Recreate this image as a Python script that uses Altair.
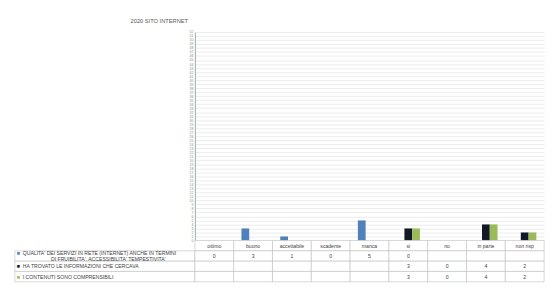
import altair as alt
import pandas as pd

title_text = "2020 SITO INTERNET"
categories = ["ottimo", "buono", "accettabile", "scadente", "manca", "si", "no", "in parte", "non risp"]
series_names = [
    "QUALITA' DEI SERVIZI IN RETE (INTERNET) ANCHE IN TERMINI DI FRUIBILITA', ACCESSIBILITA' TEMPESTIVITA'",
    "HA TROVATO LE INFORMAZIONI CHE CERCAVA",
    "I CONTENUTI SONO COMPRENSIBILI",
]
label_line1 = [
    "QUALITA' DEI SERVIZI IN RETE (INTERNET) ANCHE IN TERMINI",
    "HA TROVATO LE INFORMAZIONI CHE CERCAVA",
    "I CONTENUTI SONO COMPRENSIBILI",
]
label_line2 = ["DI FRUIBILITA', ACCESSIBILITA' TEMPESTIVITA'", "", ""]
qualita = [0, 3, 1, 0, 5, 0, None, None, None]
trovato = [None, None, None, None, None, 3, 0, 4, 2]
contenuti = [None, None, None, None, None, 3, 0, 4, 2]
colors = ["#4F81BD", "#111A26", "#9BBB59"]
y_ticks = list(range(0, 53))

FONT = "Liberation Sans"
rows = ["hdr", "r1", "r2", "r3"]
series_rows = ["r1", "r2", "r3"]
all_values = [qualita, trovato, contenuti]

bar_records = []
for s, vals in zip(series_names, all_values):
    for c, v in zip(categories, vals):
        if v is not None:
            bar_records.append({"category": c, "series": s, "value": v})
df_bars = pd.DataFrame(bar_records)

bars = alt.Chart(df_bars).mark_bar().encode(
    x=alt.X("category:N", sort=categories,
            scale=alt.Scale(domain=categories, paddingInner=0.4, paddingOuter=0.2),
            axis=None),
    xOffset=alt.XOffset("series:N", sort=series_names,
                        scale=alt.Scale(domain=series_names, paddingInner=0, paddingOuter=0)),
    y=alt.Y("value:Q", scale=alt.Scale(domain=[0, 52], nice=False),
            axis=alt.Axis(values=y_ticks, title=None, labelFontSize=3.6, labelColor="#8c8c8c",
                          labelOverlap=False, grid=True, gridColor="#dedede", gridWidth=0.6,
                          domainColor="#a6a6a6", ticks=False, labelPadding=2, labelFont=FONT)),
    color=alt.Color("series:N", scale=alt.Scale(domain=series_names, range=colors), legend=None),
)
title_mark = alt.Chart(pd.DataFrame({"t": [title_text]})).mark_text(
    align="right", baseline="middle", fontSize=5.8, color="#595959", font=FONT
).encode(text="t:N", x=alt.value(-7), y=alt.value(-11))
top = alt.layer(bars, title_mark).properties(width=355, height=212)

blank = alt.Chart(pd.DataFrame({"t": [""]})).mark_text().encode(
    text="t:N").properties(width=183, height=212)

# left table (row labels)
left_df = pd.DataFrame({"row": series_rows, "line1": label_line1, "line2": label_line2,
                        "color": colors, "sym": ["\u25a0"] * 3})
yscale = alt.Scale(domain=rows, paddingInner=0, paddingOuter=0)
left_rect = alt.Chart(left_df).mark_rect(fill="white", stroke="#bfbfbf", strokeWidth=0.6).encode(
    y=alt.Y("row:N", scale=yscale, axis=None), x=alt.value(0), x2=alt.value(183))
left_df_1 = left_df[left_df["line2"] != ""]
left_df_2 = left_df[left_df["line2"] == ""]
sq_single = alt.Chart(left_df_2).mark_text(align="left", baseline="middle", fontSize=5.5, font=FONT).encode(
    y=alt.Y("row:N", scale=yscale, axis=None), x=alt.value(2),
    color=alt.Color("color:N", scale=None), text="sym:N")
sq_1 = alt.Chart(left_df_1).mark_text(align="left", baseline="middle", fontSize=5.5, dy=-2.6, font=FONT).encode(
    y=alt.Y("row:N", scale=yscale, axis=None), x=alt.value(2),
    color=alt.Color("color:N", scale=None), text="sym:N")
txt_single = alt.Chart(left_df_2).mark_text(align="left", baseline="middle", fontSize=5.2,
                                            color="#404040", font=FONT).encode(
    y=alt.Y("row:N", scale=yscale, axis=None), x=alt.value(8), text="line1:N")
txt_l1 = alt.Chart(left_df_1).mark_text(align="left", baseline="middle", fontSize=5.2, dy=-2.6,
                                        color="#404040", font=FONT).encode(
    y=alt.Y("row:N", scale=yscale, axis=None), x=alt.value(8), text="line1:N")
txt_l2 = alt.Chart(left_df_1).mark_text(align="center", baseline="middle", fontSize=5.2, dy=2.8,
                                        color="#404040", font=FONT).encode(
    y=alt.Y("row:N", scale=yscale, axis=None), x=alt.value(95), text="line2:N")
left_table = alt.layer(left_rect, sq_single, sq_1, txt_single, txt_l1, txt_l2).properties(width=183, height=42)

# right table (values)
cell_records = []
for c in categories:
    cell_records.append({"category": c, "row": "hdr", "label": c})
    for r, vals in zip(series_rows, all_values):
        v = vals[categories.index(c)]
        cell_records.append({"category": c, "row": r, "label": "" if v is None else str(v)})
df_cells = pd.DataFrame(cell_records)
xscale_t = alt.Scale(domain=categories, paddingInner=0, paddingOuter=0)
cell_rect = alt.Chart(df_cells).mark_rect(fill="white", stroke="#bfbfbf", strokeWidth=0.6).encode(
    x=alt.X("category:N", sort=categories, scale=xscale_t, axis=None),
    y=alt.Y("row:N", scale=yscale, axis=None))
cell_txt = alt.Chart(df_cells).mark_text(fontSize=5.2, color="#404040", font=FONT, baseline="middle").encode(
    x=alt.X("category:N", sort=categories, scale=xscale_t, axis=None),
    y=alt.Y("row:N", scale=yscale, axis=None), text="label:N")
right_table = alt.layer(cell_rect, cell_txt).properties(width=355, height=42)

chart = alt.concat(blank, top, left_table, right_table, columns=2, spacing=0, bounds="flush").properties(
    padding={"left": 6, "top": 8, "right": 5, "bottom": 5}, background="white"
).configure_view(stroke=None)

chart.save("out.html", embed_options={"renderer": "svg", "actions": False})
